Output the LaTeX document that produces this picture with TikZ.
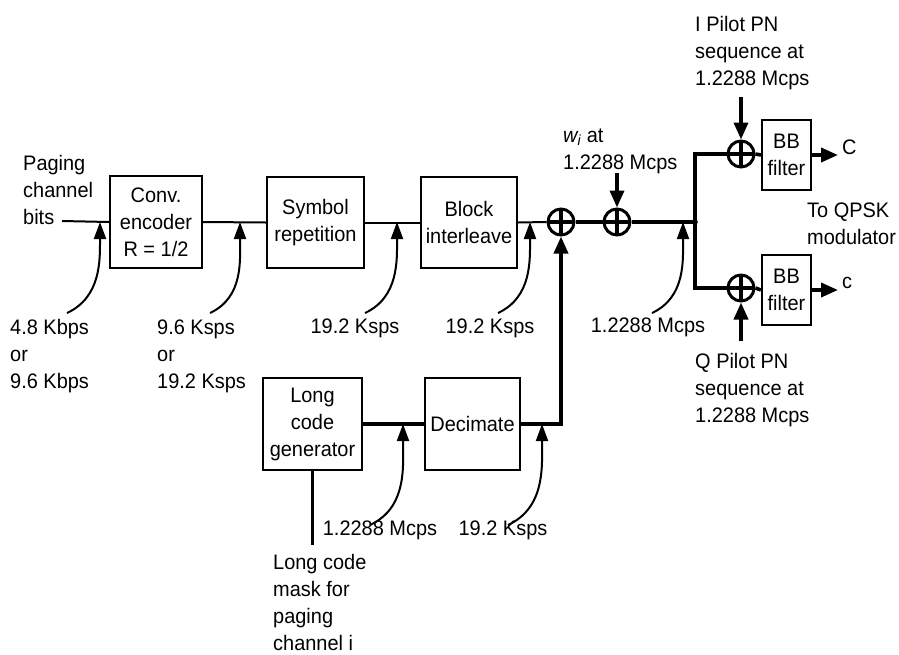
\documentclass[tikz,border=0pt]{standalone}
\usepackage{fontspec}
\setmainfont{Liberation Sans}[FakeStretch=0.95]
\usetikzlibrary{arrows.meta,calc}
\begin{document}
\begin{tikzpicture}[x=1pt,y=-1pt,
  font=\fontsize{21}{27}\selectfont,
  thinln/.style={line width=2pt},
  thickln/.style={line width=3.6pt},
  blockbox/.style={draw,line width=2.2pt,inner sep=0pt,align=center},
  lbl/.style={inner sep=0pt,align=left},
  xorsym/.style={circle,draw,line width=3pt,minimum size=26pt,inner sep=0pt,
    path picture={\draw[line width=4.5pt] (path picture bounding box.north) -- (path picture bounding box.south)
      (path picture bounding box.west) -- (path picture bounding box.east);}},
  ratearrow/.style={line width=2pt,-{Triangle[length=17pt,width=12pt]}},
  bigarrow/.style={line width=3.6pt,-{Triangle[length=17pt,width=14pt]}}
]
\useasboundingbox (0,0) rectangle (899,654);

% blocks
\node[blockbox,minimum width=92pt,minimum height=92pt] (conv) at (156,222) {Conv.\\encoder\\R = 1/2};
\node[blockbox,minimum width=97pt,minimum height=91pt] (sym) at (315.5,222.5) {Symbol\\repetition};
\node[blockbox,minimum width=96pt,minimum height=91pt] (blk) at (469,222.5) {Block\\interleave};
\node[blockbox,minimum width=99pt,minimum height=92pt] (lcg) at (312.5,424) {Long\\code\\generator};
\node[blockbox,minimum width=95pt,minimum height=92pt] (dec) at (472.5,424) {Decimate};
\node[blockbox,minimum width=49pt,minimum height=70pt] (bb1) at (786.5,155) {BB\\filter};
\node[blockbox,minimum width=49pt,minimum height=70pt] (bb2) at (786.5,290) {BB\\filter};

% xors
\node[xorsym] (x1) at (561,222) {};
\node[xorsym] (x2) at (617,222) {};
\node[xorsym] (x3) at (741,154) {};
\node[xorsym] (x4) at (741,288) {};
\coordinate (jn) at (695,222);
\fill (jn) circle (2.8pt);

% coordinates
\coordinate (bitsend) at (62,221);
\coordinate (Cend) at (838,155);
\coordinate (cend) at (838,290);
\coordinate (maskend) at (312,545);
\coordinate (ipnstart) at (741,97);
\coordinate (wistart) at (617,173);
\coordinate (qpnstart) at (741,341);

% main chain
\draw[thinln] (bitsend) -- (conv.west);
\draw[thinln] (conv.east) -- (sym.west);
\draw[thinln] (sym.east) -- (blk.west);
\draw[thinln] (blk.east) -- (x1.west);
\draw[thickln] (x1.east) -- (x2.west);
\draw[thickln] (x2.east) -- (jn);
\draw[thickln] (jn) |- (x3.west);
\draw[thickln] (jn) |- (x4.west);
\draw[thickln] (x3.east) -- (bb1.west);
\draw[thickln] (x4.east) -- (bb2.west);
\draw[bigarrow] (bb1.east) -- (Cend);
\draw[bigarrow] (bb2.east) -- (cend);
\draw[thickln] (lcg.east) -- (dec.west);
\draw[bigarrow] (dec.east) -| (x1.south);
\draw[line width=3pt] (lcg.south -| maskend) -- (maskend);
\draw[bigarrow] (ipnstart) -- (x3.north);
\draw[bigarrow] (wistart) -- (x2.north);
\draw[bigarrow] (qpnstart) -- (x4.south);

% rate arrows
\coordinate (a1s) at (67,313);  \coordinate (a1e) at (100,222);
\coordinate (a2s) at (210,313); \coordinate (a2e) at (240,222);
\coordinate (a3s) at (365,313); \coordinate (a3e) at (397,222);
\coordinate (a4s) at (498,313); \coordinate (a4e) at (530,222);
\coordinate (a5s) at (652,313); \coordinate (a5e) at (683,222);
\coordinate (a6s) at (370,525); \coordinate (a6e) at (403,424);
\coordinate (a7s) at (508,525); \coordinate (a7e) at (542,424);
\foreach \i in {1,...,7}{
  \draw[ratearrow] (a\i s) to[out=25,in=-90] (a\i e);
}

% labels
\node[lbl,anchor=west] (bits) at (23,190) {Paging\\channel\\bits};
\node[lbl,anchor=west] (r1) at (10,356) {4.8 Kbps\\or\\9.6 Kbps};
\node[lbl,anchor=west] (r2) at (157,356) {9.6 Ksps\\or\\19.2 Ksps};
\node[lbl] (r3) at (355,328) {19.2 Ksps};
\node[lbl] (r4) at (490,328) {19.2 Ksps};
\node[lbl] (r5) at (648,327) {1.2288 Mcps};
\node[lbl] (r6) at (380,530) {1.2288 Mcps};
\node[lbl] (r7) at (503,530) {19.2 Ksps};
\node[lbl,anchor=west] (mask) at (273,602) {Long code\\mask for\\paging\\channel i};
\node[lbl,anchor=west] (ipn) at (695,53) {I Pilot PN\\sequence at\\1.2288 Mcps};
\node[lbl,anchor=west] (wi) at (563,151) {{\itshape w}\textsubscript{\itshape i} at\\1.2288 Mcps};
\node[lbl,anchor=west] (qpn) at (695,390) {Q Pilot PN\\sequence at\\1.2288 Mcps};
\node[lbl,anchor=west] (qpsk) at (807,224) {To QPSK\\modulator};
\node[lbl,anchor=west] (Clbl) at (842,147) {C};
\node[lbl,anchor=west] (clbl) at (842,283) {c};
\end{tikzpicture}
\end{document}
